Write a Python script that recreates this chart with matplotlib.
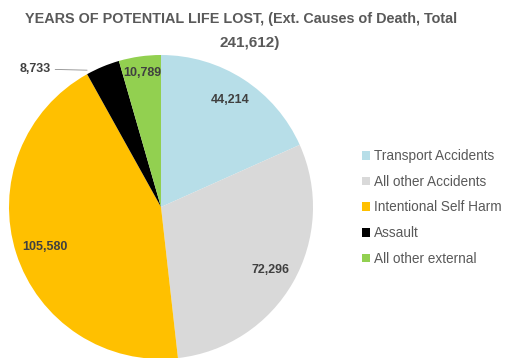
import numpy as np
import matplotlib.pyplot as plt

plt.rcParams['font.family'] = ['Liberation Sans', 'DejaVu Sans']

# data
categories = ['Transport Accidents', 'All other Accidents', 'Intentional Self Harm',
              'Assault', 'All other external']
values = [44214, 72296, 105580, 8733, 10789]
colors = ['#B7DEE8', '#D9D9D9', '#FFC000', '#000000', '#92D050']
label_dist = [0.84, 0.83, 0.80, None, 0.89]

W, H = 507, 358
fig = plt.figure(figsize=(W / 100, H / 100), dpi=100)
ax = fig.add_axes([0, 0, 1, 1])

cx, cy, r = 161, H - 207, 152
wedges, _ = ax.pie(values, colors=colors, startangle=90, counterclock=False,
                   center=(cx, cy), radius=r, frame=True)
ax.set_xlim(0, W)
ax.set_ylim(0, H)
ax.set_aspect('equal')
ax.axis('off')

for w, v, d in zip(wedges, values, label_dist):
    mid = np.deg2rad((w.theta1 + w.theta2) / 2)
    txt = f'{v:,}'
    if d is None:
        # small slice: outside label with leader line
        a = np.deg2rad(w.theta2)
        ax.annotate(txt, xy=(cx + r * np.cos(a), cy + r * np.sin(a) + 4),
                    xytext=(51, H - 69), ha='right', va='center',
                    fontsize=9, fontweight='bold', color='#404040',
                    arrowprops=dict(arrowstyle='-', color='#8c8c8c', lw=0.6,
                                    shrinkA=1, shrinkB=0))
    else:
        ax.text(cx + d * r * np.cos(mid), cy + d * r * np.sin(mid) - 3 * (d == 0.80), txt,
                ha='center', va='center', fontsize=9, fontweight='bold', color='#404040')

# title
fig.text(0.475, 1 - 19 / H, 'YEARS OF POTENTIAL LIFE LOST, (Ext. Causes of Death, Total',
         ha='center', va='center', fontsize=10.4, fontweight='bold', color='#595959')
fig.text(0.492, 1 - 43 / H, '241,612)', ha='center', va='center', fontsize=11,
         fontweight='bold', color='#595959')

# legend
leg = ax.legend(wedges, categories, loc='upper left', bbox_to_anchor=(362 / W, 1 - 149 / H),
                frameon=False, fontsize=9.8, handlelength=0.6, handleheight=0.6,
                handletextpad=0.3, labelspacing=0.86, borderpad=0, borderaxespad=0)
for t in leg.get_texts():
    t.set_color('#595959')

fig.savefig('out.png', dpi=100)
